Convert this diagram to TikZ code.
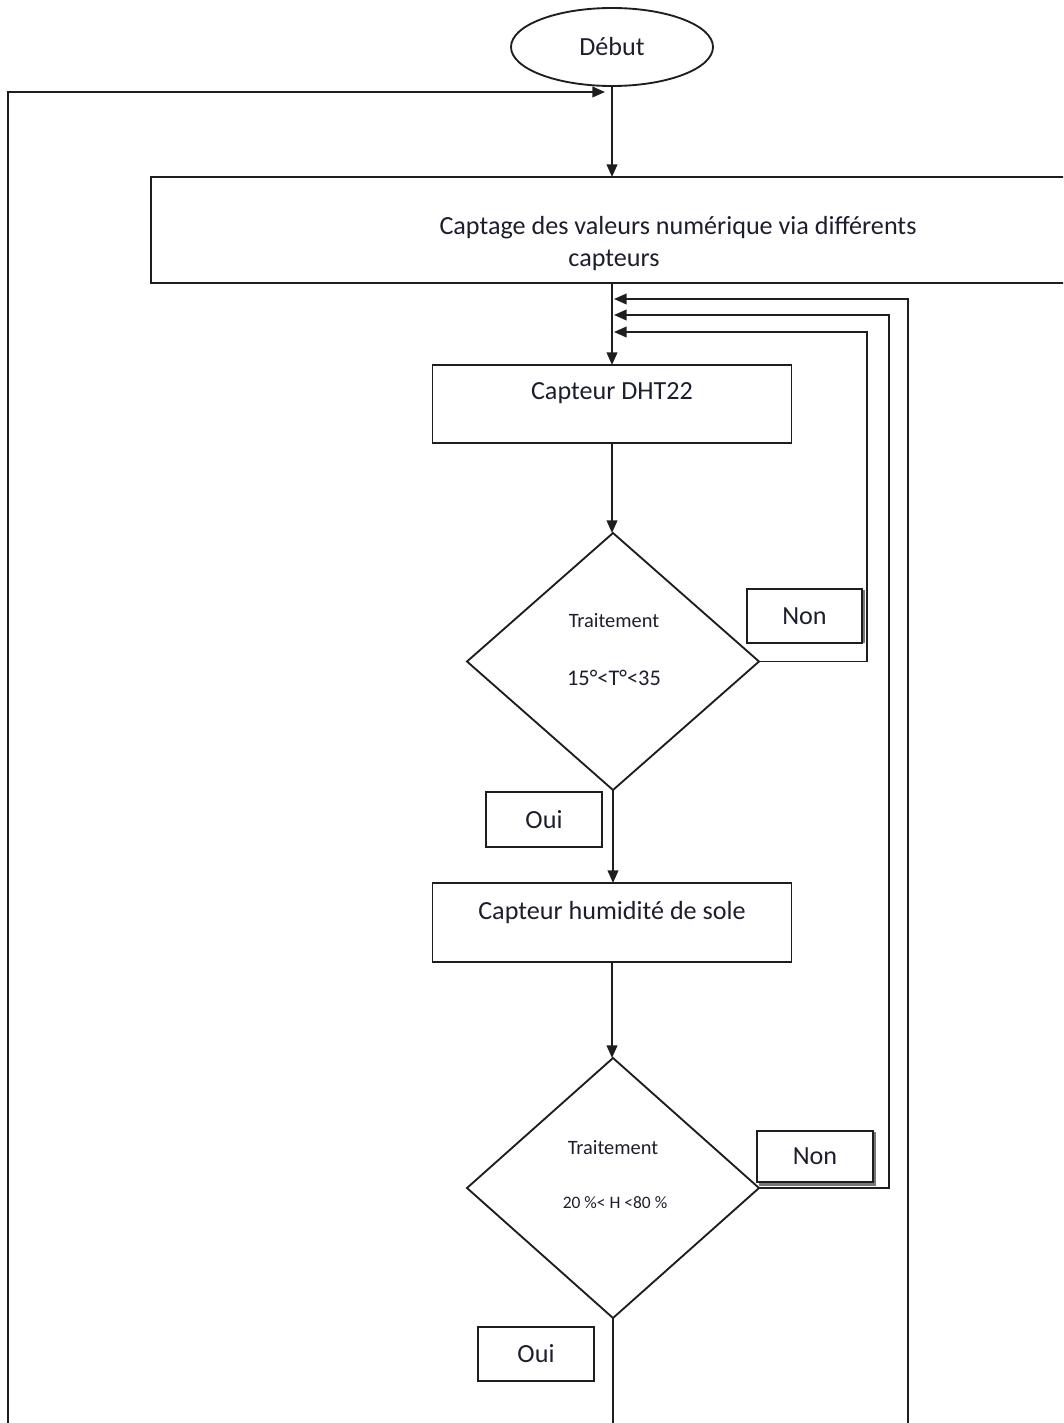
\documentclass[tikz,border=0pt]{standalone}
\usepackage{fontspec}
\setmainfont{Carlito}
\usetikzlibrary{shapes.geometric,arrows.meta}
\newdimen\pxu \pxu=0.75pt
\definecolor{txt}{RGB}{28,30,45}
\definecolor{ln}{RGB}{30,30,30}
\definecolor{shd}{RGB}{120,120,120}
\begin{document}
\begin{tikzpicture}[x=0.75pt,y=-0.75pt, color=ln, line width=1.4pt,
  box/.style={draw=ln, line width=1.4pt, rectangle, inner sep=0pt, outer sep=0pt},
  dia/.style={draw=ln, line width=1.4pt, diamond, inner sep=0pt, outer sep=0pt},
  arr/.style={-{Triangle[length=9.5pt,width=8pt]}},
  big/.style={text=txt, inner sep=0pt, font=\fontsize{19.6}{23}\selectfont},
  small/.style={text=txt, inner sep=0pt, font=\fontsize{15.3}{17}\selectfont},
  tiny/.style={text=txt, inner sep=0pt, font=\fontsize{13.1}{15}\selectfont}]
\useasboundingbox (0,0) rectangle (1063,1423);
\clip (0,0) rectangle (1063,1423);

% start
\node[ellipse, draw=ln, line width=1.4pt, minimum width=202\pxu, minimum height=78\pxu, inner sep=0pt, outer sep=0pt, big] (debut) at (612,47) {Début};

% big box
\node[box, anchor=north west, minimum width=930\pxu, minimum height=106\pxu] (capt) at (151,177) {};
\node[big] (capttxt1) at (678,228) {Captage des valeurs numérique via différents};
\node[big] (capttxt2) at (614,260) {capteurs};

% DHT22
\node[box, minimum width=359\pxu, minimum height=78\pxu] (dht) at (612,404) {};
\node[big] (dhttxt) at (612,393) {Capteur DHT22};

% diamond 1
\node[dia, minimum width=292\pxu, minimum height=257\pxu] (d1) at (613,661.5) {};
\node[small] (d1a) at (614,621) {Traitement};
\node[small, font=\fontsize{16.8}{19}\selectfont] (d1b) at (614,678) {15°<T°<35};

% Non 1 / Oui 1
\fill[shd] (861,590) rectangle (864.5,643);
\node[box, minimum width=115\pxu, minimum height=54\pxu, big] (non1) at (804.5,616) {Non};
\node[box, minimum width=116\pxu, minimum height=55\pxu, big] (oui1) at (544,819.5) {Oui};

% humidity box
\node[box, minimum width=359\pxu, minimum height=79\pxu] (hum) at (612,922.5) {};
\node[big] (humtxt) at (612,913) {Capteur humidité de sole};

% diamond 2
\node[dia, minimum width=292\pxu, minimum height=260\pxu] (d2) at (613,1188) {};
\node[small] (d2a) at (613,1148) {Traitement};
\node[tiny] (d2b) at (615,1203) {20 \%< H <80 \%};

% Non 2 / Oui 2
\fill[shd] (872,1132) rectangle (875.5,1184);
\fill[shd] (759,1182) rectangle (875.5,1185.5);
\node[box, minimum width=116\pxu, minimum height=51\pxu, big] (non2) at (815,1156.5) {Non};
\node[box, minimum width=116\pxu, minimum height=54\pxu, big] (oui2) at (536,1354) {Oui};

% junction coordinates
\coordinate (j1) at (614,299);
\coordinate (j2) at (614,315);
\coordinate (j3) at (614,332);
\coordinate (jd) at (605,92);
\coordinate (botL) at (8,1440);
\coordinate (botR) at (908,1440);
\coordinate (botM) at (613,1440);

% main flow
\draw[arr] (debut.south) -- (debut.south |- capt.north);
\draw[arr] (capt.south -| dht.north) -- (dht.north);
\draw[arr] (dht.south) -- (dht.south |- d1.north);
\draw[arr] (d1.south) -- (d1.south |- hum.north);
\draw[arr] (hum.south) -- (hum.south |- d2.north);
\draw (d2.south) -- (botM);

% loops
\draw[arr] (d1.east) -| (867,332) -- (j3);
\draw[arr] (d2.east) -| (889,315) -- (j2);
\draw[arr] (botR) -- (908,299) -- (j1);
\draw[arr] (botL) -- (8,92) -- (jd);
\end{tikzpicture}
\end{document}
